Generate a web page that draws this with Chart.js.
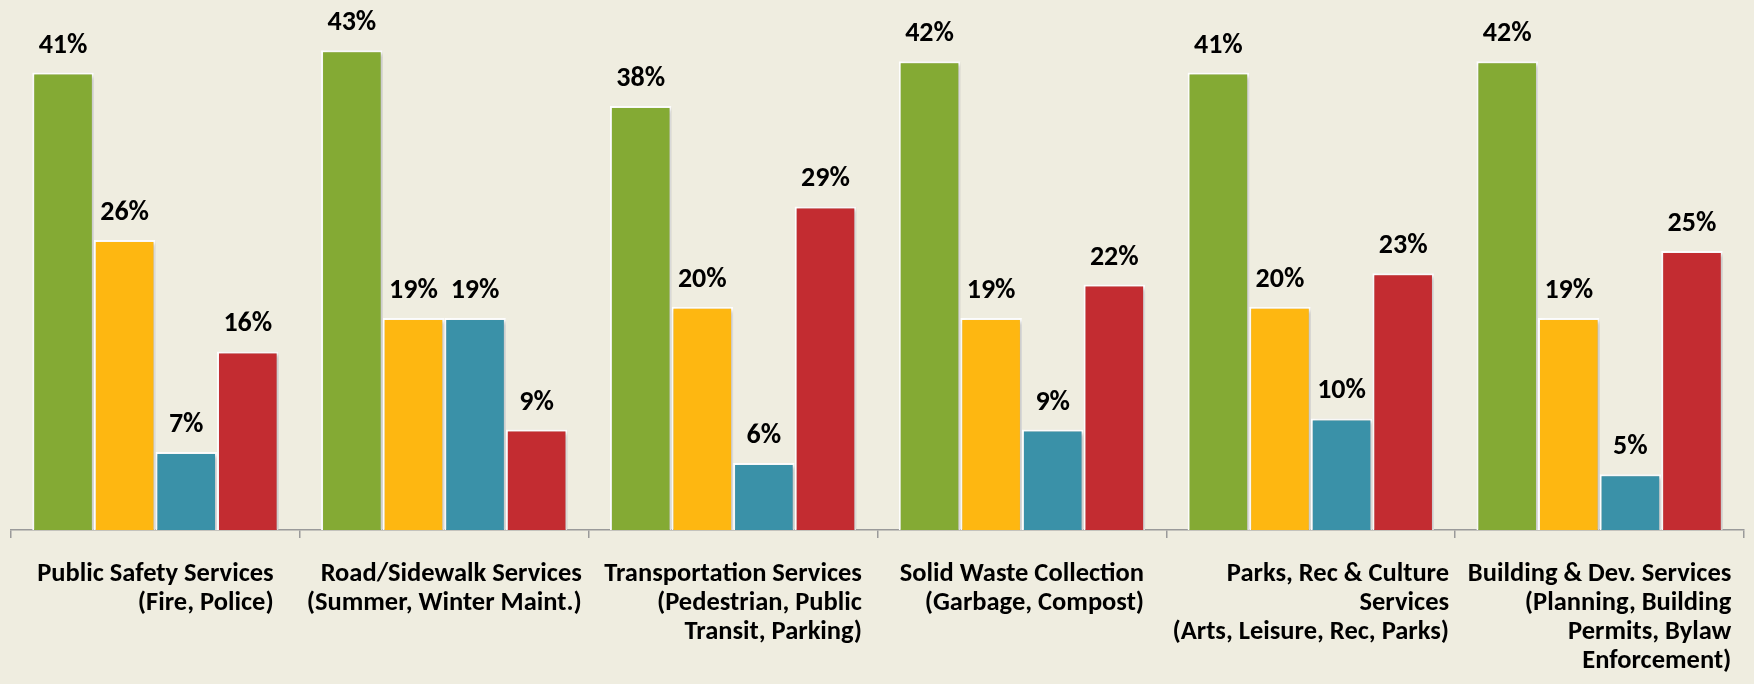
<!DOCTYPE html>
<html>
<head>
<meta charset="utf-8">
<script src="https://cdn.jsdelivr.net/npm/chart.js@4.4.1/dist/chart.umd.min.js"></script>
<style>
  html, body { margin: 0; padding: 0; background: #efede0; }
  #wrap { width: 1754px; height: 684px; position: relative; }
</style>
</head>
<body>
<div id="wrap"><canvas id="chart_servicos"></canvas></div>
<script>
const categorias = [
  ["Public Safety Services", "(Fire, Police)"],
  ["Road/Sidewalk Services", "(Summer, Winter Maint.)"],
  ["Transportation Services", "(Pedestrian, Public", "Transit, Parking)"],
  ["Solid Waste Collection", "(Garbage, Compost)"],
  ["Parks, Rec & Culture", "Services", "(Arts, Leisure, Rec, Parks)"],
  ["Building & Dev. Services", "(Planning, Building", "Permits, Bylaw", "Enforcement)"],
];
const serieVerde = [41, 43, 38, 42, 41, 42];
const serieAmarela = [26, 19, 20, 19, 20, 19];
const serieAzul = [7, 19, 6, 9, 10, 5];
const serieVermelha = [16, 9, 29, 22, 23, 25];

const FONTE = "Carlito, Lato, 'Open Sans', sans-serif";

// sombra nas barras + rotulos de valor e de categoria
const rotulos = {
  id: "rotulos",
  beforeDatasetsDraw(chart) {
    const ctx = chart.ctx;
    ctx.save();
    ctx.shadowColor = "rgba(0,0,0,0.25)";
    ctx.shadowBlur = 4;
    ctx.shadowOffsetX = 2;
    ctx.shadowOffsetY = 2;
  },
  afterDatasetsDraw(chart) {
    const ctx = chart.ctx;
    ctx.restore();
    ctx.save();
    ctx.fillStyle = "#000000";
    ctx.font = "bold 28px " + FONTE;
    ctx.textAlign = "center";
    chart.data.datasets.forEach((ds, i) => {
      chart.getDatasetMeta(i).data.forEach((bar, j) => {
        ctx.fillText(ds.data[j] + "%", bar.x, bar.y - 20);
      });
    });
    const xs = chart.scales.x;
    ctx.font = "bold 26.5px " + FONTE;
    ctx.textAlign = "right";
    categorias.forEach((linhas, j) => {
      const w = Math.max(...linhas.map(l => ctx.measureText(l).width));
      const cx = xs.getPixelForTick(j);
      linhas.forEach((l, k) => ctx.fillText(l, cx + w / 2, xs.top + 51 + k * 29));
    });
    ctx.restore();
  },
};

new Chart(document.getElementById("chart_servicos"), {
  type: "bar",
  data: {
    labels: categorias.map(l => l.join(" ")),
    datasets: [
      { label: "Série 1", data: serieVerde, backgroundColor: "#84aa34" },
      { label: "Série 2", data: serieAmarela, backgroundColor: "#feb711" },
      { label: "Série 3", data: serieAzul, backgroundColor: "#3a91a8" },
      { label: "Série 4", data: serieVermelha, backgroundColor: "#c32c31" },
    ].map(d => Object.assign(d, { borderColor: "#ffffff", borderWidth: 2, categoryPercentage: 0.853, barPercentage: 1.0 })),
  },
  options: {
    responsive: true,
    maintainAspectRatio: false,
    animation: false,
    layout: { padding: { left: 11, right: 10, top: 0, bottom: 0 } },
    scales: {
      y: { display: false, min: 0, max: 47.5 },
      x: {
        ticks: { display: false },
        grid: { drawOnChartArea: false, drawTicks: true, tickLength: 8, color: "#9a9a9a", lineWidth: 1.5, offset: true },
        border: { color: "#9a9a9a", width: 1.5 },
        afterFit: (s) => { s.height = 154; },
      },
    },
    plugins: {
      legend: { display: false },
      tooltip: { enabled: false },
    },
  },
  plugins: [rotulos],
});
</script>
</body>
</html>
